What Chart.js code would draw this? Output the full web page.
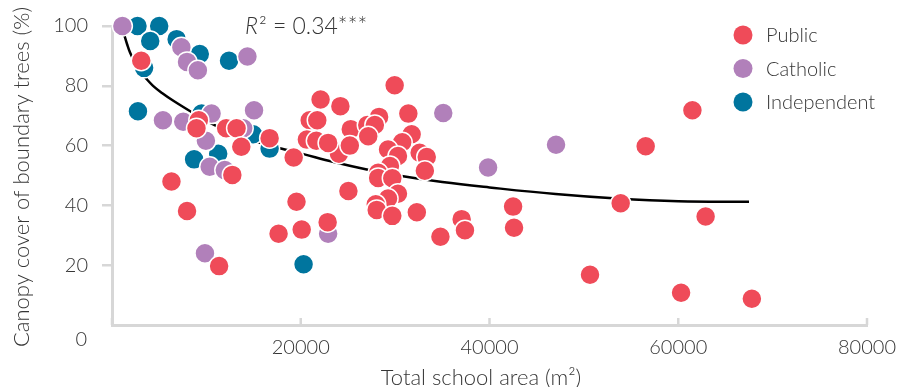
<!DOCTYPE html>
<html>
<head>
<meta charset="utf-8">
<script src="https://cdn.jsdelivr.net/npm/chart.js@4/dist/chart.umd.min.js"></script>
<style>
  html, body { margin: 0; padding: 0; background: #ffffff; }
  #wrap { width: 914px; height: 387px; position: relative; }
</style>
</head>
<body>
<div id="wrap"><canvas id="chart"></canvas></div>
<script>
// School grounds: total area (m²) against canopy cover of boundary trees (%)
const publicArea = [3100, 9200, 8950, 12100, 13200, 13700, 16700, 12750, 6300, 7950, 11350,
  19250, 19550, 17650, 20100, 22850, 25050, 24050, 29950, 22100, 24200, 31400, 20950, 21750,
  28300, 25300, 27050, 27850, 27150, 31750, 20650, 21650, 22900, 25200, 30750, 29250, 30300,
  32600, 33350, 29450, 28200, 28200, 33150, 29700, 30300, 29250, 27950, 28050, 29700, 32300,
  34800, 37050, 37400, 42500, 42600, 50650, 53900, 56550, 61500, 60300, 62900, 67800];
const publicCanopy = [88.4, 68.5, 65.8, 65.8, 65.8, 59.6, 62.5, 50.2, 48.0, 38.1, 19.7,
  56.0, 41.2, 30.5, 31.9, 34.4, 44.8, 57.3, 80.2, 75.4, 73.2, 70.7, 68.5, 68.5,
  69.6, 65.5, 66.9, 66.9, 63.1, 63.8, 62.0, 61.6, 60.9, 60.0, 61.1, 58.7, 56.5,
  57.6, 56.2, 53.2, 50.9, 49.2, 51.6, 49.1, 43.9, 42.3, 40.4, 38.5, 36.5, 37.7,
  29.5, 35.4, 31.7, 39.6, 32.5, 16.8, 40.7, 59.8, 71.8, 10.8, 36.3, 8.8];

const catholicArea = [1100, 7350, 7950, 9100, 14350, 5400, 7550, 10550, 15050, 9950, 13900,
  10350, 11950, 9850, 22900, 35100, 39850, 47050];
const catholicCanopy = [100, 92.9, 88.0, 85.2, 89.8, 68.5, 68.0, 70.7, 71.8, 61.6, 65.8,
  52.9, 51.8, 24.0, 30.5, 70.9, 52.7, 60.3];

const independentArea = [2700, 5000, 4050, 6850, 9300, 12400, 3400, 2750, 9500, 14950, 16700,
  8700, 11250, 20300];
const independentCanopy = [100, 100, 95.0, 95.6, 90.6, 88.4, 86.0, 71.5, 70.7, 63.8, 59.0,
  55.4, 57.3, 20.3];

// fitted trend line
const trendArea = [1300, 1600, 1900, 2400, 3000, 3600, 4350, 5300, 6500, 8600, 10400, 12000,
  14000, 16000, 18300, 20000, 23500, 27000, 30500, 35000, 40000, 47000, 53500, 60000, 67500];
const trendCanopy = [97, 93.9, 91.2, 87.9, 84.8, 82.5, 80.0, 77.6, 75.0, 70.9, 67.6, 65.2,
  62.7, 60.6, 58.7, 57.4, 54.5, 52.0, 49.9, 47.8, 46.0, 43.8, 42.3, 41.4, 41.2];

const xTickValues = [0, 20000, 40000, 60000, 80000];
const yTickValues = [0, 20, 40, 60, 80, 100];
const seriesNames = ['Public', 'Catholic', 'Independent'];
const fitLabel = '0.34***';

const COLORS = { Public: '#ef4b59', Catholic: '#b180ba', Independent: '#00759e' };
const AXIS_GREY = '#d7d7d7';
const TEXT = '#363636';
const FONT = 'Lato, "Open Sans", sans-serif';

const toPoints = (xs, ys) => xs.map((x, i) => ({ x, y: ys[i] }));

function scatterSet(name, xs, ys, order) {
  return {
    type: 'scatter',
    label: name,
    data: toPoints(xs, ys),
    backgroundColor: COLORS[name],
    borderColor: '#ffffff',
    borderWidth: 1.5,
    pointRadius: 10,
    pointHoverRadius: 10,
    clip: false,
    order
  };
}

const decor = {
  id: 'decor',
  beforeDatasetsDraw(chart) {
    const { ctx, scales: { x, y } } = chart;
    const base = y.getPixelForValue(0);
    ctx.save();
    ctx.strokeStyle = AXIS_GREY;
    ctx.lineWidth = 2.5;
    xTickValues.forEach(v => {
      const px = x.getPixelForValue(v);
      ctx.beginPath();
      ctx.moveTo(px, base - 7);
      ctx.lineTo(px, base);
      ctx.stroke();
    });
    ctx.restore();
  },
  afterDraw(chart) {
    const { ctx, scales: { y } } = chart;
    ctx.save();
    ctx.fillStyle = TEXT;
    ctx.font = `300 20px ${FONT}`;

    // zero label of the canopy axis
    ctx.textAlign = 'right';
    ctx.textBaseline = 'middle';
    ctx.fillText('0', 87, y.getPixelForValue(0) + 15);

    // axis titles
    ctx.font = `300 22px ${FONT}`;
    ctx.textAlign = 'center';
    ctx.fillText('Total school area (m²)', 481, 378);
    ctx.save();
    ctx.translate(22, 177);
    ctx.rotate(-Math.PI / 2);
    ctx.fillText('Canopy cover of boundary trees (%)', 0, 0);
    ctx.restore();

    // goodness-of-fit annotation
    ctx.textAlign = 'left';
    ctx.textBaseline = 'alphabetic';
    ctx.font = `italic 300 23px ${FONT}`;
    ctx.fillText('R', 245, 34);
    const rw = ctx.measureText('R').width;
    ctx.font = `300 23px ${FONT}`;
    ctx.fillText('² = ' + fitLabel, 245 + rw + 1, 34);

    // legend
    ctx.font = `300 20px ${FONT}`;
    ctx.textBaseline = 'middle';
    seriesNames.forEach((name, i) => {
      const cy = 35 + i * 33.5;
      ctx.beginPath();
      ctx.arc(743, cy, 9.5, 0, Math.PI * 2);
      ctx.fillStyle = COLORS[name];
      ctx.fill();
      ctx.fillStyle = TEXT;
      ctx.fillText(name, 766, cy + 1);
    });
    ctx.restore();
  }
};

new Chart(document.getElementById('chart'), {
  type: 'scatter',
  data: {
    datasets: [
      scatterSet('Public', publicArea, publicCanopy, 1),
      scatterSet('Catholic', catholicArea, catholicCanopy, 2),
      scatterSet('Independent', independentArea, independentCanopy, 3),
      {
        type: 'line',
        label: 'Trend',
        data: toPoints(trendArea, trendCanopy),
        borderColor: '#000000',
        borderWidth: 2.5,
        pointRadius: 0,
        fill: false,
        showLine: true,
        tension: 0.4,
        order: 4
      }
    ]
  },
  options: {
    responsive: true,
    maintainAspectRatio: false,
    animation: false,
    devicePixelRatio: 1,
    layout: { padding: { top: 19, right: 47, left: 0, bottom: 0 } },
    plugins: { legend: { display: false }, tooltip: { enabled: false } },
    scales: {
      x: {
        type: 'linear',
        position: 'bottom',
        min: 0,
        max: 80000,
        afterFit(scale) { scale.height = 62; },
        afterBuildTicks(scale) { scale.ticks = xTickValues.map(v => ({ value: v })); },
        ticks: {
          callback: v => (v === 0 ? '' : String(v)),
          color: TEXT,
          font: { family: FONT, size: 20, weight: '300' },
          padding: 11,
          maxRotation: 0
        },
        grid: { drawOnChartArea: false, drawTicks: false },
        border: { color: AXIS_GREY, width: 3 }
      },
      y: {
        type: 'linear',
        position: 'left',
        min: 0,
        max: 100,
        afterFit(scale) { scale.width = 112; },
        afterBuildTicks(scale) { scale.ticks = yTickValues.map(v => ({ value: v })); },
        ticks: {
          callback: v => (v === 0 ? '' : String(v)),
          color: TEXT,
          font: { family: FONT, size: 20, weight: '300' },
          padding: 14
        },
        grid: {
          drawOnChartArea: false,
          drawTicks: true,
          tickLength: 10,
          lineWidth: 2.5,
          color: ctx => (ctx.tick && ctx.tick.value === 0 ? 'rgba(0,0,0,0)' : AXIS_GREY)
        },
        border: { color: AXIS_GREY, width: 3 }
      }
    }
  },
  plugins: [decor]
});
</script>
</body>
</html>
